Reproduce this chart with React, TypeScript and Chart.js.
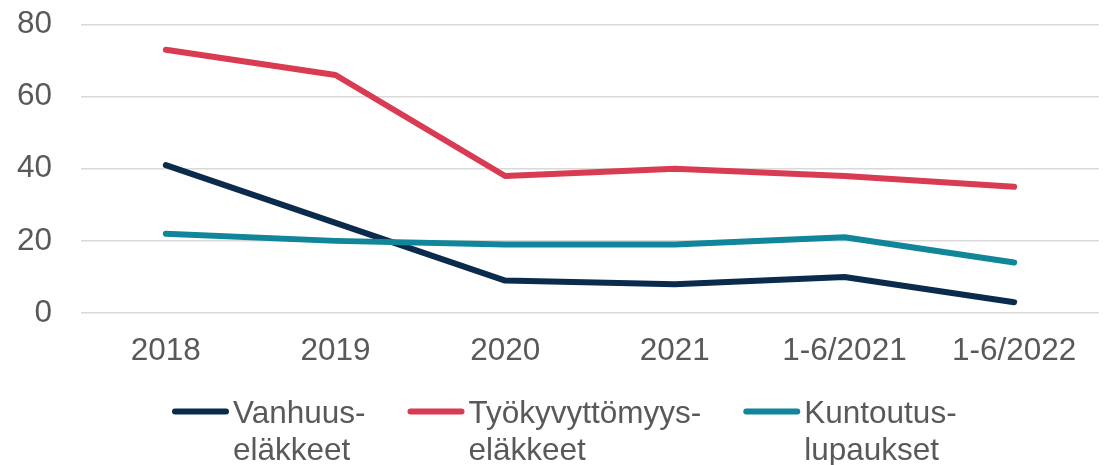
import React, { useEffect, useRef } from "react";
import { Chart, registerables } from "chart.js";

Chart.register(...registerables);

const categories = ["2018", "2019", "2020", "2021", "1-6/2021", "1-6/2022"];
const vanhuus = [41, 25, 9, 8, 10, 3];
const tyokyvyttomyys = [73, 66, 38, 40, 38, 35];
const kuntoutus = [22, 20, 19, 19, 21, 14];
const seriesLabels = [
  ["Vanhuus-", "eläkkeet"],
  ["Työkyvyttömyys-", "eläkkeet"],
  ["Kuntoutus-", "lupaukset"],
];
const seriesColors = ["#0B2B4D", "#D83B52", "#11859A"];
const yMin = 0;
const yMax = 80;
const yStep = 20;

const FONT = "'Liberation Sans', Arial, sans-serif";
const FONT_SIZE = 31.5;
const TEXT_COLOR = "#595959";

const multiLegend = {
  id: "multiLegend",
  afterDraw(chart: any, _args: any, opts: any) {
    const ctx = chart.ctx;
    ctx.save();
    ctx.font = `${FONT_SIZE}px ${FONT}`;
    ctx.textBaseline = "alphabetic";
    ctx.textAlign = "left";
    let x = opts.startX;
    chart.data.datasets.forEach((ds: any) => {
      const lines: string[] = ds.label;
      const cap = ds.borderWidth / 2;
      ctx.strokeStyle = ds.borderColor;
      ctx.lineWidth = ds.borderWidth;
      ctx.lineCap = "round";
      ctx.beginPath();
      ctx.moveTo(x + cap, opts.markerY);
      ctx.lineTo(x + opts.markerLen - cap, opts.markerY);
      ctx.stroke();
      const tx = x + opts.markerLen + opts.textGap;
      ctx.fillStyle = TEXT_COLOR;
      let maxW = 0;
      lines.forEach((ln, i) => {
        ctx.fillText(ln, tx, opts.baseline + i * opts.lineHeight);
        maxW = Math.max(maxW, ctx.measureText(ln).width);
      });
      x = tx + maxW + opts.itemGap;
    });
    ctx.restore();
  },
};

export default function App() {
  const ref = useRef<HTMLCanvasElement>(null);
  useEffect(() => {
    if (!ref.current) return;
    const datasets = [vanhuus, tyokyvyttomyys, kuntoutus].map((d, i) => ({
      label: seriesLabels[i],
      data: d,
      borderColor: seriesColors[i],
      backgroundColor: seriesColors[i],
      borderWidth: 6,
      borderCapStyle: "round",
      borderJoinStyle: "round",
      pointRadius: 0,
      pointHoverRadius: 0,
      tension: 0,
      fill: false,
      order: 3 - i,
    }));
    const chart = new Chart(ref.current, {
      type: "line",
      data: { labels: categories, datasets: datasets as any },
      plugins: [multiLegend as any],
      options: {
        animation: false,
        responsive: false,
        layout: { padding: { left: 0, right: 6, top: 24.5, bottom: 0 } },
        plugins: {
          legend: { display: false },
          tooltip: { enabled: false },
          multiLegend: {
            startX: 172,
            markerLen: 57,
            textGap: 4,
            itemGap: 42,
            markerY: 411.5,
            baseline: 423.3,
            lineHeight: 36.8,
          },
        } as any,
        scales: {
          x: {
            offset: true,
            grid: { display: false, drawTicks: false },
            border: { display: false },
            ticks: {
              color: TEXT_COLOR,
              font: { family: FONT, size: FONT_SIZE },
              padding: 19,
              maxRotation: 0,
              autoSkip: false,
            },
            afterFit: (s: any) => {
              s.height = 152;
              s.paddingLeft = 0;
              s.paddingRight = 0;
            },
          },
          y: {
            min: yMin,
            max: yMax,
            grid: { color: "#D9D9D9", lineWidth: 1.5, drawTicks: false },
            border: { display: false },
            ticks: {
              stepSize: yStep,
              color: TEXT_COLOR,
              font: { family: FONT, size: FONT_SIZE },
              padding: 29,
            },
            afterFit: (s: any) => {
              s.width = 81;
              s.paddingTop = 0;
              s.paddingBottom = 0;
            },
          },
        },
      },
    });
    return () => chart.destroy();
  }, []);
  return (
    <div style={{ position: "fixed", left: 0, top: 0, width: 1105, height: 465, background: "#fff" }}>
      <canvas ref={ref} width={1105} height={465} />
    </div>
  );
}
